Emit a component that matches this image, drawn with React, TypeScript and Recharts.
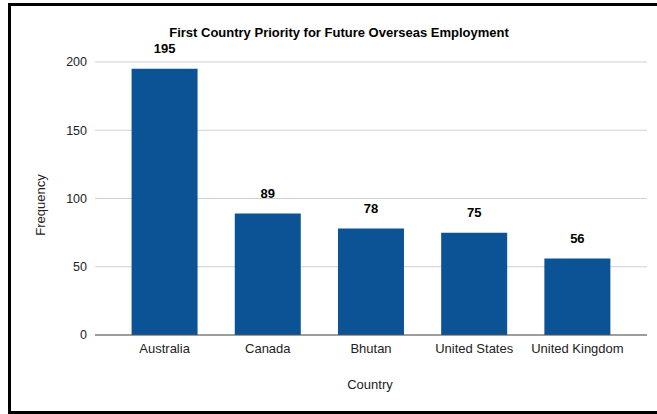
import { BarChart, Bar, CartesianGrid, XAxis, YAxis, LabelList } from 'recharts';

const countries = ['Australia', 'Canada', 'Bhutan', 'United States', 'United Kingdom'];
const frequency = [195, 89, 78, 75, 56];
const yTicks = [0, 50, 100, 150, 200];

const BAR_COLOR = '#0b5394';
const FONT = '"Liberation Sans", Arial, sans-serif';

const chartData = countries.map((name, i) => ({ name, value: frequency[i] }));

export default function App() {
  return (
    <div
      style={{
        position: 'absolute',
        left: 0,
        top: 0,
        width: 657,
        height: 414,
        background: '#fff',
        overflow: 'hidden',
        fontFamily: FONT,
      }}
    >
      {/* frame of the screenshot, right edge is cropped off */}
      <div
        style={{
          position: 'absolute',
          left: 8,
          top: 3,
          width: 680,
          height: 411,
          border: '3px solid #000',
          boxSizing: 'border-box',
        }}
      />
      <div
        style={{
          position: 'absolute',
          left: 0,
          width: 678,
          top: 25,
          textAlign: 'center',
          fontSize: 13,
          fontWeight: 'bold',
          color: '#000',
        }}
      >
        First Country Priority for Future Overseas Employment
      </div>
      <div
        style={{
          position: 'absolute',
          left: 40,
          top: 205,
          transform: 'translate(-50%, -50%) rotate(-90deg)',
          fontSize: 13,
          color: '#222',
          whiteSpace: 'nowrap',
        }}
      >
        Frequency
      </div>
      <div
        style={{
          position: 'absolute',
          left: 370,
          top: 384,
          transform: 'translate(-50%, -50%)',
          fontSize: 13,
          color: '#222',
        }}
      >
        Country
      </div>
      <div style={{ position: 'absolute', left: 0, top: 0 }}>
        <BarChart
          width={657}
          height={414}
          data={chartData}
          margin={{ top: 62, right: 10, left: 0, bottom: 49 }}
          barCategoryGap="18%"
        >
          <CartesianGrid stroke="#d0d0d0" vertical={false} />
          <XAxis
            dataKey="name"
            height={30}
            interval={0}
            padding={{ left: 18, right: 18 }}
            tickLine={false}
            tickSize={0}
            tickMargin={9}
            axisLine={{ stroke: '#555' }}
            tick={{ fill: '#222', fontSize: 13, fontFamily: FONT }}
          />
          <YAxis
            width={95}
            domain={[0, 200]}
            ticks={yTicks}
            axisLine={false}
            tickLine={false}
            tickSize={0}
            tickMargin={8}
            tick={{ fill: '#222', fontSize: 12.5, fontFamily: FONT }}
          />
          <Bar dataKey="value" fill={BAR_COLOR} isAnimationActive={false}>
            <LabelList
              dataKey="value"
              position="top"
              offset={16}
              style={{ fill: '#000', fontSize: 13, fontWeight: 'bold', fontFamily: FONT }}
            />
          </Bar>
        </BarChart>
      </div>
    </div>
  );
}
